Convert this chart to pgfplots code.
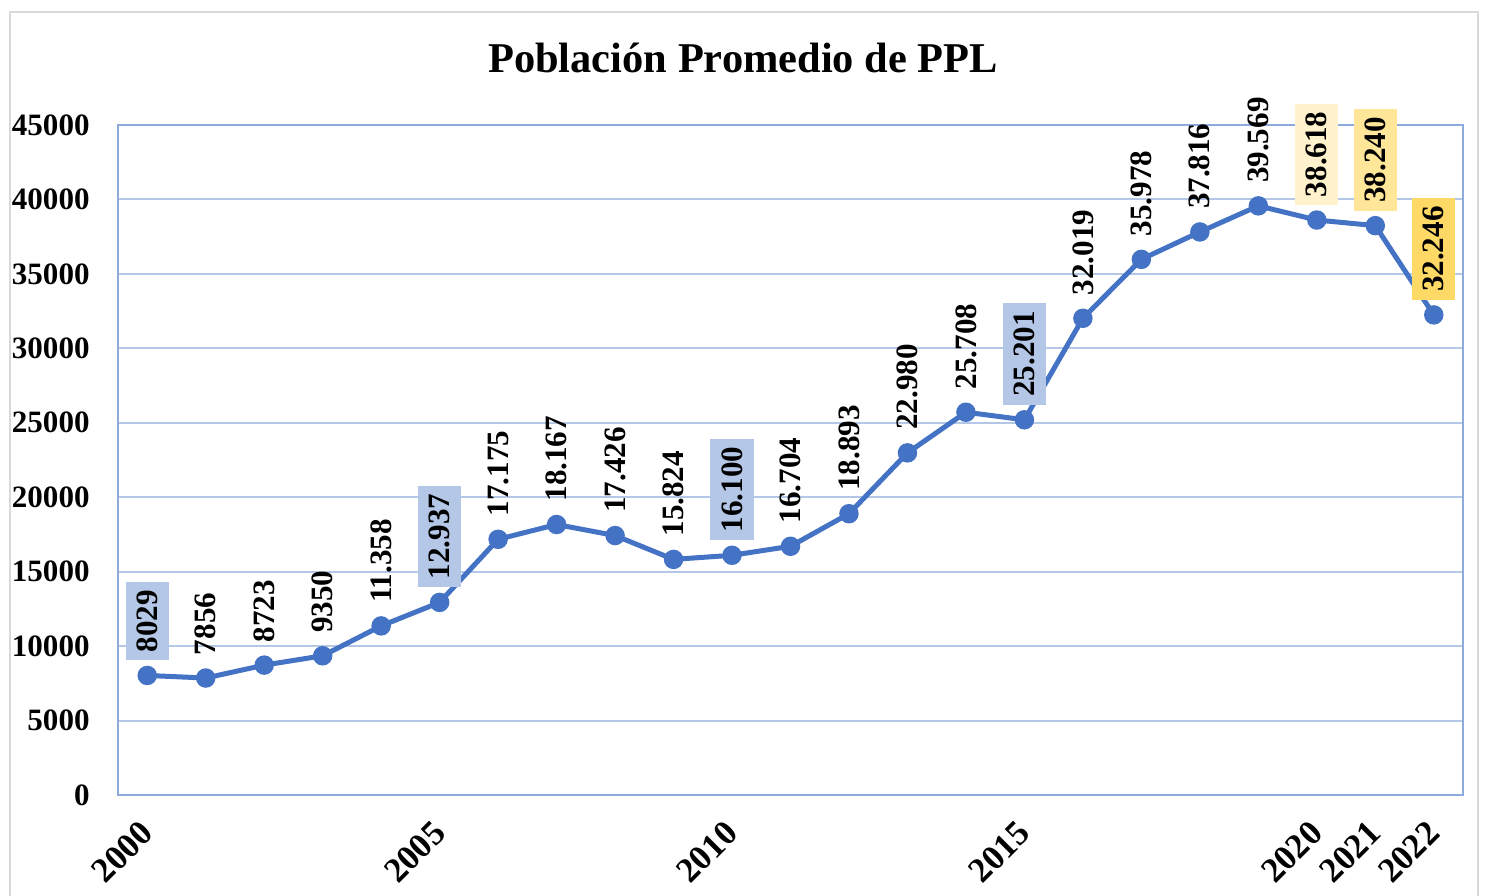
\documentclass[border=0pt]{standalone}
\usepackage{pgfplots}
\pgfplotsset{compat=1.18}
\usepackage{pgfplotstable}
\usepackage{fontspec}
\setmainfont{Liberation Serif}
\definecolor{linec}{HTML}{4472C4}
\definecolor{gridc}{HTML}{B4C7E7}
\definecolor{framec}{HTML}{8FAADC}
\definecolor{lblue}{HTML}{B4C7E7}
\definecolor{ly1}{HTML}{FFF2CC}
\definecolor{ly2}{HTML}{FFE699}
\definecolor{ly3}{HTML}{FFD966}
\definecolor{borderc}{HTML}{D9D9D9}

\pgfplotstableread{
x y
2000 8029
2001 7856
2002 8723
2003 9350
2004 11358
2005 12937
2006 17175
2007 18167
2008 17426
2009 15824
2010 16100
2011 16704
2012 18893
2013 22980
2014 25708
2015 25201
2016 32019
2017 35978
2018 37816
2019 39569
2020 38618
2021 38240
2022 32246
}\linedata

\pgfplotstableread{
x y lab
2001 7856 7856
2002 8723 8723
2003 9350 9350
2004 11358 11.358
2006 17175 17.175
2007 18167 18.167
2008 17426 17.426
2009 15824 15.824
2011 16704 16.704
2012 18893 18.893
2013 22980 22.980
2014 25708 25.708
2016 32019 32.019
2017 35978 35.978
2018 37816 37.816
2019 39569 39.569
}\plainlab

\pgfplotstableread{
x y lab
2000 8029 8029
2005 12937 12.937
2010 16100 16.100
2015 25201 25.201
}\bluelab

\pgfplotstableread{
x y lab
2020 38618 38.618
}\yonelab

\pgfplotstableread{
x y lab
2021 38240 38.240
}\ytwolab

\pgfplotstableread{
x y lab
2022 32246 32.246
}\ythreelab

\newcommand{\lblfont}{\fontsize{15.6}{18}\selectfont\bfseries}
\newcommand{\xlblfont}{\fontsize{17.5}{20}\selectfont\bfseries}

\pgfplotsset{
  lbl/.style={draw=none, mark=none, nodes near coords, point meta=explicit symbolic,
    every node near coord/.append style={rotate=90, anchor=west, font=\lblfont,
     text=black, inner xsep=4bp, inner ysep=5.5bp, outer xsep=7.5bp, fill=#1}},
}

\begin{document}
\begin{tikzpicture}
\begin{axis}[
  at={(0,0)}, anchor=south west, scale only axis,
  width=672.5bp, height=335bp,
  xmin=1999.5, xmax=2022.5, ymin=0, ymax=45000,
  ytick={0,5000,...,45000},
  scaled y ticks=false,
  xtick={2000,2005,2010,2015,2020,2021,2022},
  xticklabels={2000,2005,2010,2015,2020,2021,2022},
  ymajorgrids, grid style={gridc, line width=1bp},
  major tick length=0pt,
  axis line style={framec, line width=1.3bp},
  /pgf/number format/assume math mode=true,
  /pgf/number format/1000 sep={},
  yticklabel style={font=\lblfont, anchor=east, inner sep=0pt, xshift=-14bp},
  xticklabel style={font=\xlblfont, yshift=-16bp, rotate=45, anchor=east, inner sep=0pt},
  clip=false,
]
\addplot[linec, line width=2.5bp, mark=*, mark size=3.6bp,
  mark options={fill=linec, draw=linec}] table[x=x,y=y] {\linedata};
\addplot[lbl=none] table[x=x,y=y,meta=lab] {\plainlab};
\addplot[lbl=lblue] table[x=x,y=y,meta=lab] {\bluelab};
\addplot[lbl=ly1] table[x=x,y=y,meta=lab] {\yonelab};
\addplot[lbl=ly2] table[x=x,y=y,meta=lab] {\ytwolab};
\addplot[lbl=ly3] table[x=x,y=y,meta=lab] {\ythreelab};
\end{axis}
\node[font=\fontsize{21.3}{24}\selectfont\bfseries, anchor=base] at (312.5bp,361bp) {Población Promedio de PPL};
\draw[borderc, line width=1bp] (-54bp,-60bp) rectangle (680bp,391.5bp);
\pgfresetboundingbox
\useasboundingbox (-59bp,-50.5bp) rectangle (683.5bp,397.5bp);
\end{tikzpicture}
\end{document}
